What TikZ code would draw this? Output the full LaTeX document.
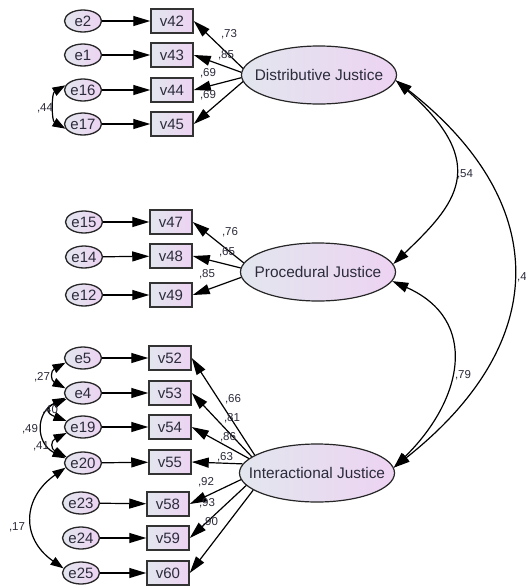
\documentclass[tikz,border=0pt]{standalone}
\usepackage{fontspec}
\setmainfont{Liberation Sans}
\usetikzlibrary{arrows.meta,shapes.geometric}
\definecolor{lc}{HTML}{E2E6EE}
\definecolor{rc}{HTML}{EDD3F2}
\definecolor{txt}{HTML}{2B2B3B}
\newcommand{\zb}[1]{\makebox[0pt]{#1}}
\begin{document}
\begin{tikzpicture}[x=1pt,y=-1pt,
  errnode/.style={ellipse, draw=black!85, line width=1.3pt, left color=lc, right color=rc,
    minimum width=37pt, minimum height=22pt, inner sep=0pt, text=txt,
    font=\fontsize{15}{17}\selectfont},
  obsbox/.style={rectangle, draw=black!80, line width=1.5pt, left color=lc, right color=rc,
    minimum width=42pt, minimum height=24pt, inner sep=0pt, text=txt,
    font=\fontsize{15}{17}\selectfont},
  latent/.style={ellipse, draw=black!85, line width=1.2pt, left color=lc, right color=rc,
    minimum width=155pt, minimum height=58pt, inner sep=0pt, text=txt,
    font=\fontsize{15.4}{17}\selectfont},
  arr/.style={line width=1.2pt, -{Triangle[length=17pt,width=10pt]}},
  cov/.style={line width=1.2pt, {Triangle[length=16pt,width=10pt]}-{Triangle[length=16pt,width=10pt]}},
  ecov/.style={line width=1.2pt, {Triangle[length=13pt,width=9pt]}-{Triangle[length=13pt,width=9pt]}},
  coef/.style={font=\fontsize{11.5}{13}\selectfont, text=txt, inner sep=0pt}
]
\useasboundingbox[fill=white] (0,0) rectangle (526,587);

% latent variables
\node[latent] (DJ) at (319,75) {\zb{Distributive Justice}};
\node[latent] (PJ) at (318,272) {\zb{Procedural Justice}};
\node[latent] (IJ) at (317,473) {\zb{Interactional Justice}};

% Distributive block
\node[errnode] (e2)  at (83,21)  {\zb{e2}};
\node[errnode] (e1)  at (83,55)  {\zb{e1}};
\node[errnode] (e16) at (83,90)  {\zb{e16}};
\node[errnode] (e17) at (83,124) {\zb{e17}};
\node[obsbox] (v42) at (172,21)  {v42};
\node[obsbox] (v43) at (172,55)  {v43};
\node[obsbox] (v44) at (172,90)  {v44};
\node[obsbox] (v45) at (172,124) {v45};

% Procedural block
\node[errnode] (e15) at (84,222) {\zb{e15}};
\node[errnode] (e14) at (84,257) {\zb{e14}};
\node[errnode] (e12) at (84,295) {\zb{e12}};
\node[obsbox] (v47) at (171,222) {v47};
\node[obsbox] (v48) at (171,256) {v48};
\node[obsbox] (v49) at (171,295) {v49};

% Interactional block
\node[errnode] (e5)  at (83,358) {\zb{e5}};
\node[errnode] (e4)  at (83,393) {\zb{e4}};
\node[errnode] (e19) at (83,427) {\zb{e19}};
\node[errnode] (e20) at (83,463) {\zb{e20}};
\node[errnode] (e23) at (81,503) {\zb{e23}};
\node[errnode] (e24) at (81,538) {\zb{e24}};
\node[errnode] (e25) at (81,573) {\zb{e25}};
\node[obsbox] (v52) at (170,358) {v52};
\node[obsbox] (v53) at (170,393) {v53};
\node[obsbox] (v54) at (170,427) {v54};
\node[obsbox] (v55) at (170,462) {v55};
\node[obsbox] (v58) at (168,504) {v58};
\node[obsbox] (v59) at (168,538) {v59};
\node[obsbox] (v60) at (168,573) {v60};

% error arrows
\foreach \e/\v in {e2/v42,e1/v43,e16/v44,e17/v45,e15/v47,e14/v48,e12/v49,
                   e5/v52,e4/v53,e19/v54,e20/v55,e23/v58,e24/v59,e25/v60}
  \draw[arr] (\e) -- (\v);

% loadings
\draw[arr] (DJ.175) -- (v42.east);
\draw[arr] (DJ.178) -- (v43.east);
\draw[arr] (DJ.182) -- (v44.east);
\draw[arr] (DJ.185) -- (v45.east);
\draw[arr] (PJ.173) -- (v47.east);
\draw[arr] (PJ.177) -- (v48.east);
\draw[arr] (PJ.184) -- (v49.east);
\draw[arr] (IJ.164) -- (v52.east);
\draw[arr] (IJ.166) -- (v53.east);
\draw[arr] (IJ.168) -- (v54.east);
\draw[arr] (IJ.173) -- (v55.east);
\draw[arr] (IJ.185) -- (v58.east);
\draw[arr] (IJ.190) -- (v59.east);
\draw[arr] (IJ.195) -- (v60.east);

% latent covariances
\draw[cov] (DJ.-4) .. controls (492,165) and (455,205) .. (PJ.6);
\draw[cov] (PJ.-7) .. controls (480,320) and (463,400) .. (IJ.4);
\draw[cov] (DJ.-4) .. controls (549,200) and (555,340) .. (IJ.4);

% error covariances
\draw[ecov] (e16.165) .. controls +(-14,8) and +(-14,-8) .. (e17.195);
\draw[ecov] (e5.195) .. controls +(-15,8) and +(-15,-8) .. (e4.165);
\draw[ecov] (e4.200) .. controls +(-21,8) and +(-21,-8) .. (e19.160);
\draw[ecov] (e4.195) .. controls +(-30,15) and +(-30,-15) .. (e20.165);
\draw[ecov] (e19.200) .. controls +(-16,8) and +(-16,-8) .. (e20.160);
\draw[ecov] (e20.195) .. controls +(-43,30) and +(-43,-30) .. (e25.165);

% coefficients
\node[coef] (c73) at (229,34) {,73};
\node[coef] (c85) at (226,55) {,85};
\node[coef] (c69a) at (208,73) {,69};
\node[coef] (c69b) at (208,95) {,69};
\node[coef] (c44) at (45,108) {,44};
\node[coef] (c76) at (230,232) {,76};
\node[coef] (c65) at (227,252) {,65};
\node[coef] (c85b) at (207,274) {,85};
\node[coef] (c66) at (233,399) {,66};
\node[coef] (c81) at (232,418) {,81};
\node[coef] (c86) at (228,437) {,86};
\node[coef] (c63) at (225,457) {,63};
\node[coef] (c92) at (206,482) {,92};
\node[coef] (c93) at (207,503) {,93};
\node[coef] (c90) at (210,522) {,90};
\node[coef] (c27) at (42,377) {,27};
\node[coef] (c40) at (50,410) {,40};
\node[coef] (c49) at (30,429) {,49};
\node[coef] (c41) at (41,446) {,41};
\node[coef] (c17) at (17,527) {,17};
\node[coef] (c54) at (465,174) {,54};
\node[coef] (c79) at (463,375) {,79};
\node[coef, anchor=west] (c4) at (517,277) {,4};
\end{tikzpicture}
\end{document}
